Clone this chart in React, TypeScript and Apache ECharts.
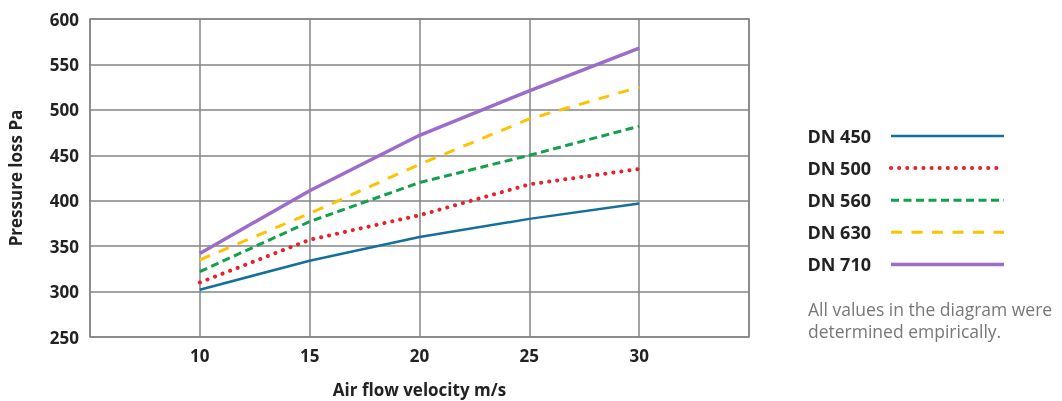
import React, { useEffect, useRef } from "react";
import * as echarts from "echarts";

const velocities = [10, 15, 20, 25, 30];
const dn450 = [302, 334, 360, 380, 397];
const dn500 = [310, 357, 384, 418, 435];
const dn560 = [322, 377, 420, 450, 482];
const dn630 = [335, 386, 440, 490, 525];
const dn710 = [342, 411, 472, 521, 568];
const seriesNames = ["DN 450", "DN 500", "DN 560", "DN 630", "DN 710"];
const noteLines = ["All values in the diagram were", "determined empirically."];

const FONT = "'Open Sans', 'Noto Sans', sans-serif";

export default function App() {
  const ref = useRef<HTMLDivElement>(null);
  useEffect(() => {
    if (!ref.current) return;
    const chart = echarts.init(ref.current, undefined, { renderer: "svg" });
    const pair = (arr: number[]) => velocities.map((v, i) => [v, arr[i]]);
    const styles: any[] = [
      { color: "#14709b", width: 2.5, type: "solid", cap: "butt" },
      { color: "#e8202a", width: 4, type: [0.1, 8], cap: "round" },
      { color: "#12a14b", width: 3, type: [8, 4.5], cap: "butt" },
      { color: "#fdc300", width: 3, type: [11, 9.5], cap: "butt" },
      { color: "#9b6cc8", width: 3.5, type: "solid", cap: "butt" },
    ];
    const datas = [dn450, dn500, dn560, dn630, dn710];
    const labelStyle = { fontSize: 17, fontWeight: "bold", color: "#222", fontFamily: FONT };
    chart.setOption({
      animation: false,
      textStyle: { fontFamily: FONT },
      grid: {
        left: 90,
        top: 19,
        width: 659,
        height: 318,
        outerBoundsMode: "none",
        containLabel: false,
        show: true,
        borderColor: "#858585",
        borderWidth: 1.5,
      },
      xAxis: {
        type: "value",
        min: 5,
        max: 35,
        interval: 5,
        name: "Air flow velocity m/s",
        nameLocation: "middle",
        nameGap: 44,
        nameTextStyle: labelStyle,
        axisLine: { show: false },
        axisTick: { show: false },
        axisLabel: { ...labelStyle, showMinLabel: false, showMaxLabel: false, margin: 10 },
        splitLine: { show: true, lineStyle: { color: "#858585", width: 1.5 } },
      },
      yAxis: {
        type: "value",
        min: 250,
        max: 600,
        interval: 50,
        name: "Pressure loss Pa",
        nameLocation: "middle",
        nameGap: 66,
        nameTextStyle: labelStyle,
        axisLine: { show: false },
        axisTick: { show: false },
        axisLabel: { ...labelStyle, margin: 11 },
        splitLine: { show: true, lineStyle: { color: "#858585", width: 1.5 } },
      },
      legend: {
        orient: "vertical",
        align: "right",
        right: 51,
        top: 122,
        itemWidth: 113,
        itemHeight: 14,
        itemGap: 14.1,
        data: seriesNames.map((name, i) => ({
          name,
          itemStyle: { opacity: 0 },
          lineStyle: { color: styles[i].color, width: styles[i].width, type: styles[i].type, cap: styles[i].cap },
        })),
        textStyle: { fontSize: 18, fontWeight: "bold", color: "#222", fontFamily: FONT, padding: [0, 15, 0, 0] },
      },
      series: seriesNames.map((name, i) => ({
        name,
        type: "line",
        data: pair(datas[i]),
        symbol: "none",
        lineStyle: { color: styles[i].color, width: styles[i].width, type: styles[i].type, cap: styles[i].cap },
        itemStyle: { color: styles[i].color },
      })),
      graphic: [
        {
          type: "text",
          left: 808,
          top: 298,
          style: { text: noteLines.join("\n"), fontSize: 17.5, lineHeight: 22, fill: "#777", fontFamily: FONT },
        },
      ],
    });
    return () => chart.dispose();
  }, []);
  return <div ref={ref} style={{ position: "fixed", left: 0, top: 0, width: 1062, height: 401 }} />;
}
